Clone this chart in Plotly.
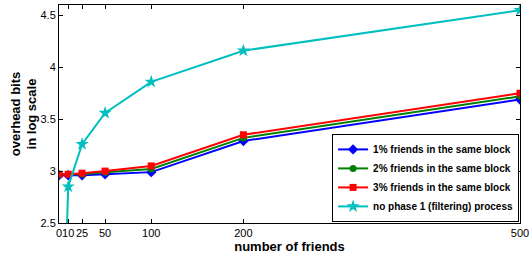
import plotly.graph_objects as go

friends = [0, 10, 25, 50, 100, 200, 500]
pct1 = [2.96, 2.96, 2.96, 2.97, 2.99, 3.29, 3.69]
pct2 = [2.97, 2.97, 2.97, 2.99, 3.02, 3.32, 3.72]
pct3 = [2.97, 2.97, 2.98, 3.00, 3.05, 3.35, 3.75]
nophase_x = [0, 10, 25, 50, 100, 200, 500]
nophase = [0.0, 2.85, 3.26, 3.56, 3.86, 4.16, 4.55]
xticks = [0, 10, 25, 50, 100, 200, 500]
yticks = [2.5, 3, 3.5, 4, 4.5]

fig = go.Figure()
series = [
    ("1% friends in the same block", friends, pct1, "#0000FF", "diamond", 8),
    ("2% friends in the same block", friends, pct2, "#008000", "circle", 7),
    ("3% friends in the same block", friends, pct3, "#FF0000", "square", 7),
    ("no phase 1 (filtering) process", nophase_x, nophase, "#00BFBF", "star", 10),
]
for name, x, y, c, sym, sz in series:
    fig.add_trace(go.Scatter(x=x, y=y, name=name, mode="lines+markers",
                             line=dict(color=c, width=2),
                             marker=dict(color=c, symbol=sym, size=sz)))

fig.update_layout(
    width=529, height=257,
    margin=dict(l=59, r=9, t=5, b=34, autoexpand=False),
    paper_bgcolor="white", plot_bgcolor="white",
    font=dict(family="Liberation Sans, Arial, sans-serif", size=11, color="black"),
    showlegend=True,
    legend=dict(x=0.998, y=0.005, xanchor="right", yanchor="bottom",
                bordercolor="black", borderwidth=1, bgcolor="white",
                font=dict(size=10, family="Liberation Sans, Arial, sans-serif", weight="bold"),
                tracegroupgap=0, itemwidth=30),
)
fig.update_xaxes(range=[0, 500], tickvals=xticks, ticktext=["0", "10", "25", "50", "100", "200", "500"],
                 tickangle=0, automargin=False, ticklabeloverflow="allow",
                 showgrid=False, zeroline=False, showline=True, linecolor="black",
                 linewidth=1, mirror="ticks", ticks="inside", ticklen=4,
                 tickcolor="black",
                 title=dict(text="<b>number of friends</b>", font=dict(size=13), standoff=2))
fig.update_yaxes(range=[2.5, 4.6], tickvals=yticks, ticktext=["2.5", "3", "3.5", "4", "4.5"],
                 automargin=False,
                 showgrid=False, zeroline=False, showline=True, linecolor="black",
                 linewidth=1, mirror="ticks", ticks="inside", ticklen=4,
                 tickcolor="black",
                 title=dict(text="<b>overhead bits<br>in log scale</b>", font=dict(size=13), standoff=0))

fig.write_html("out.html", config={"displayModeBar": False},
               post_script="document.body.style.margin='0px';")
